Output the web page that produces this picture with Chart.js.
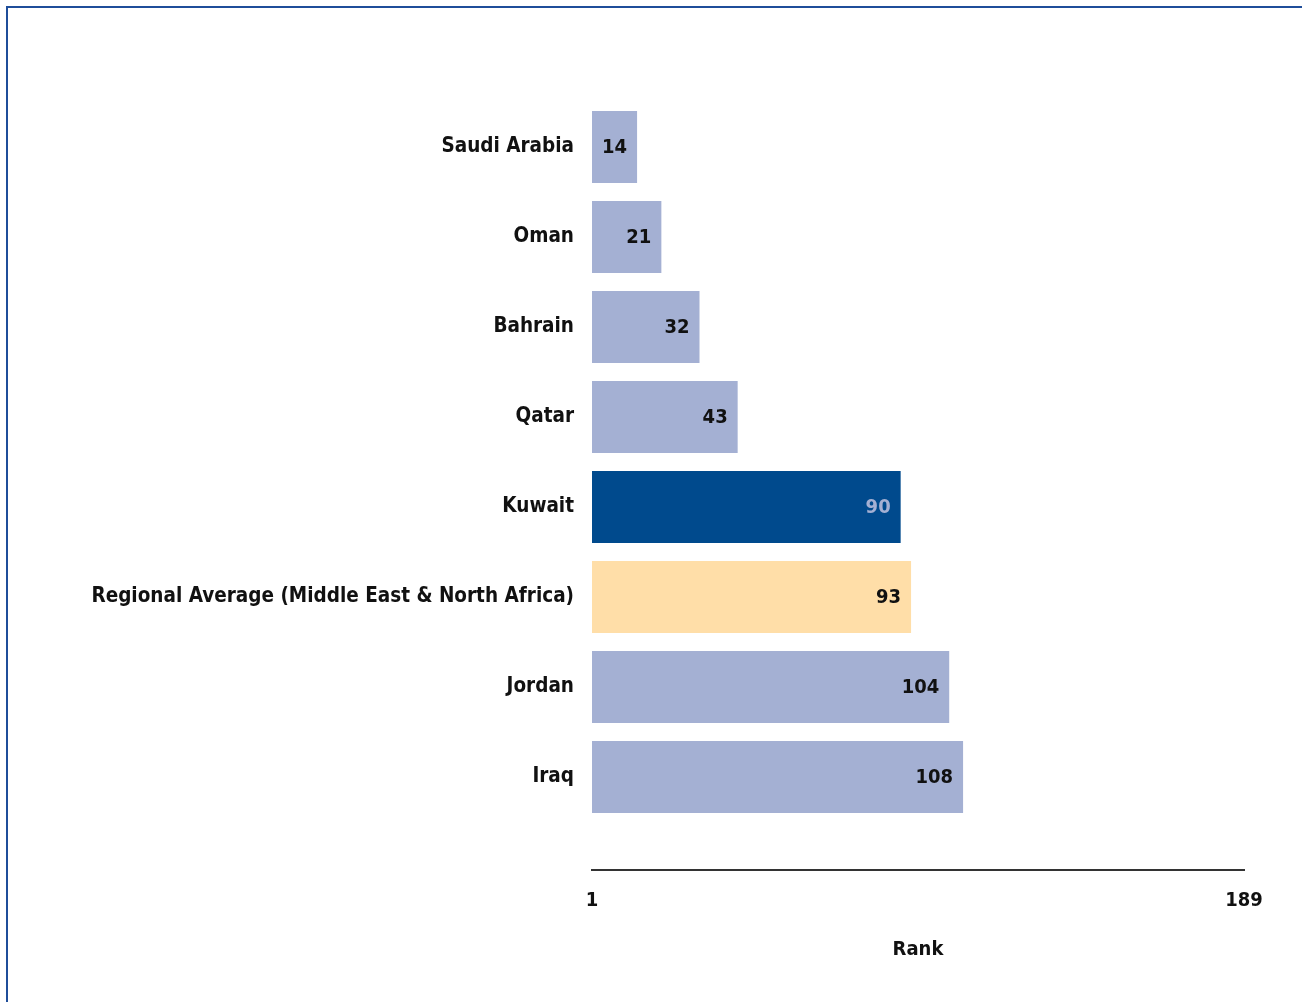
<!DOCTYPE html>
<html>
<head>
<title>Rank</title>
<script src="https://cdn.jsdelivr.net/npm/chart.js"></script>
<style>
  html, body { margin: 0; padding: 0; background: #fff; }
  #wrap { position: relative; width: 1302px; height: 1002px; overflow: hidden; }
  #frame { position: absolute; left: 6px; top: 6px; width: 1400px; height: 1100px;
           border-left: 2px solid #1F4E9A; border-top: 2px solid #1F4E9A; }
  #chart { position: absolute; left: 0; top: 0; }
</style>
</head>
<body>
<div id="wrap">
  <div id="frame"></div>
  <canvas id="chart" width="1302" height="1002"></canvas>
</div>

<script>
const countries = ['Saudi Arabia', 'Oman', 'Bahrain', 'Qatar', 'Kuwait',
  'Regional Average (Middle East & North Africa)', 'Jordan', 'Iraq'];
const ranks = [14, 21, 32, 43, 90, 93, 104, 108];
const rankTicks = [1, 189];
const barColors = ['#A4B0D3', '#A4B0D3', '#A4B0D3', '#A4B0D3', '#004A8D', '#FFDEA8', '#A4B0D3', '#A4B0D3'];
const labelColors = ['#111', '#111', '#111', '#111', '#A4B0D3', '#111', '#111', '#111'];

const FONT = '"DejaVu Sans Condensed", "DejaVu Sans", sans-serif';
const SIZE = 20.5;

// value labels inside the bar ends
const barLabels = {
  id: 'barLabels',
  afterDatasetsDraw(chart) {
    const ctx = chart.ctx;
    const meta = chart.getDatasetMeta(0);
    ctx.save();
    ctx.font = 'bold 20px ' + FONT;
    ctx.textAlign = 'right';
    ctx.textBaseline = 'middle';
    meta.data.forEach((bar, i) => {
      ctx.fillStyle = labelColors[i];
      ctx.fillText(String(ranks[i]), bar.x - 10, bar.y + 1);
    });
    ctx.restore();
  }
};

new Chart(document.getElementById('chart'), {
  type: 'bar',
  data: {
    datasets: [{
      data: ranks.map((v, i) => ({ x: v, y: i })),
      base: 1,
      backgroundColor: barColors,
      borderWidth: 0,
      categoryPercentage: 0.8,
      barPercentage: 1
    }]
  },
  options: {
    indexAxis: 'y',
    responsive: false,
    animation: false,
    layout: { padding: { top: 102, right: 58, bottom: 0, left: 0 } },
    plugins: { legend: { display: false }, tooltip: { enabled: false } },
    scales: {
      y: {
        type: 'linear',
        reverse: true,
        offset: false,
        min: -0.5,
        max: 8.033,
        afterBuildTicks: s => { s.ticks = countries.map((_, i) => ({ value: i })); },
        afterFit: s => { s.width = 592; s.paddingTop = 0; s.paddingBottom = 0; },
        grid: { display: false, drawTicks: false, offset: false },
        border: { display: false },
        ticks: {
          autoSkip: false,
          padding: 18,
          color: '#111',
          font: { family: FONT, size: SIZE, weight: 'bold' },
          callback: v => countries[v]
        }
      },
      x: {
        type: 'linear',
        min: 1,
        max: 189,
        afterBuildTicks: s => { s.ticks = rankTicks.map(v => ({ value: v })); },
        afterFit: s => { s.height = 1002 - 870; },
        grid: { display: false, drawTicks: false },
        border: { display: true, color: '#333', width: 2 },
        ticks: {
          autoSkip: false,
          maxRotation: 0,
          padding: 19,
          color: '#111',
          font: { family: FONT, size: 20, weight: 'bold' }
        },
        title: {
          display: true,
          text: 'Rank',
          color: '#111',
          padding: { top: 4, bottom: 40 },
          font: { family: FONT, size: 20, weight: 'bold' }
        }
      }
    }
  },
  plugins: [barLabels]
});
</script>
</body>
</html>
